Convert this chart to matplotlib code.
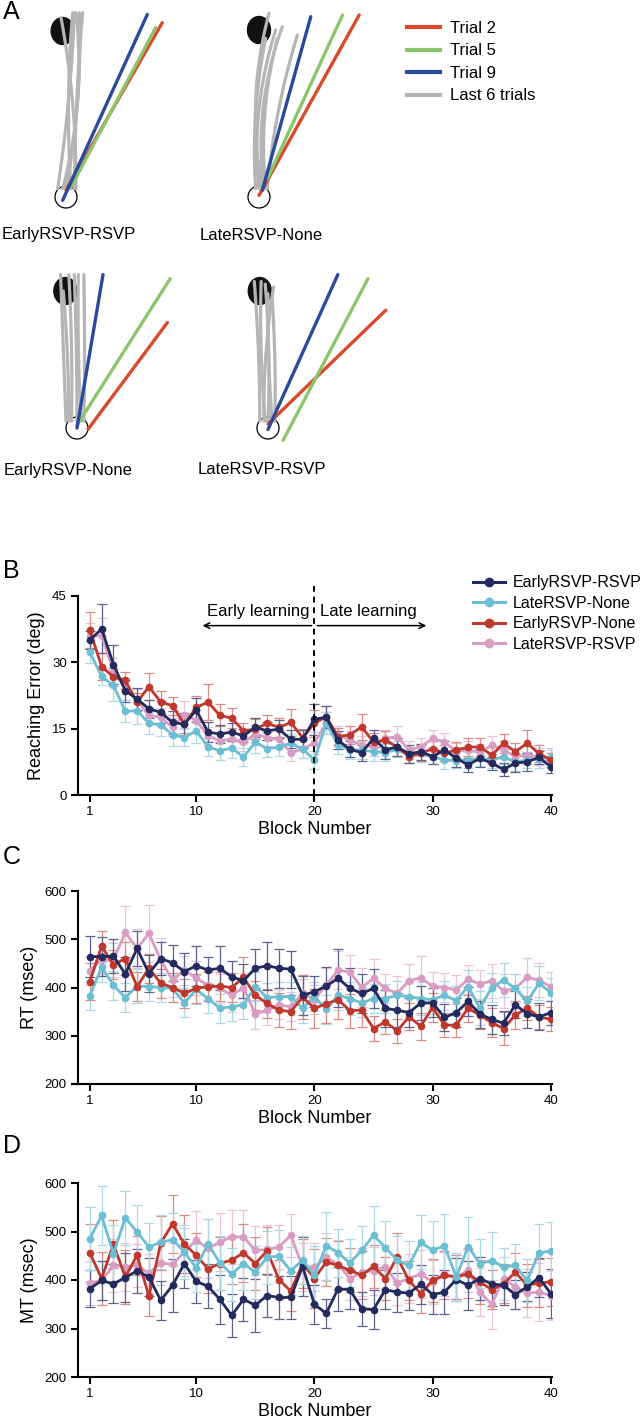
import numpy as np
import matplotlib
matplotlib.use("Agg")
import matplotlib.pyplot as plt
from matplotlib.patches import Ellipse, Circle
from matplotlib.lines import Line2D

plt.rcParams["font.family"] = ["Liberation Sans", "DejaVu Sans"]

# ---------------- data ----------------
blocks = np.arange(1, 41)
groups = ["EarlyRSVP-RSVP", "LateRSVP-None", "EarlyRSVP-None", "LateRSVP-RSVP"]

# Panel B: reaching error (deg)
err_early_rsvp = [35.0, 37.6, 29.5, 23.6, 21.7, 19.5, 18.7, 16.4, 16.0, 19.2,
                  14.2, 13.8, 14.2, 13.4, 15.3, 14.5, 14.9, 12.6, 12.6, 17.1,
                  17.6, 12.4, 10.3, 9.6, 12.8, 10.2, 10.9, 9.3, 9.8, 8.7,
                  10.2, 8.3, 6.8, 8.3, 7.2, 5.8, 7.2, 7.5, 8.5, 6.4]
err_late_none = [32.3, 26.8, 24.8, 18.9, 19.1, 16.2, 15.9, 13.6, 13.0, 14.5,
                 10.9, 10.0, 10.6, 8.6, 11.9, 10.5, 10.8, 11.7, 10.4, 7.9,
                 16.2, 11.3, 10.2, 10.2, 9.8, 9.6, 10.3, 9.0, 9.4, 8.7,
                 7.9, 7.8, 7.9, 8.3, 7.9, 8.7, 7.5, 7.9, 8.1, 8.7]
err_early_none = [37.3, 29.0, 26.7, 25.9, 21.0, 24.5, 21.0, 20.2, 16.0, 19.8,
                  21.0, 18.0, 17.4, 14.5, 14.9, 16.2, 15.3, 16.4, 13.0, 16.2,
                  17.7, 13.2, 13.6, 15.4, 12.0, 12.4, 10.9, 8.7, 9.4, 10.5,
                  9.4, 10.2, 10.8, 10.9, 9.0, 11.7, 9.8, 11.7, 9.4, 7.9]
err_late_rsvp = [36.0, 36.0, 28.0, 24.0, 21.4, 18.0, 17.6, 15.3, 18.2, 16.8,
                 13.4, 12.3, 12.6, 11.9, 13.8, 13.0, 12.6, 9.6, 10.4, 11.8,
                 16.2, 13.6, 12.4, 11.3, 10.9, 12.8, 13.2, 10.2, 10.9, 12.8,
                 12.0, 9.8, 10.2, 9.6, 11.3, 10.2, 8.7, 9.0, 8.7, 8.1]
sem_err_early_rsvp = [2, 5.5, 4.5, 2.5, 2.5, 2, 2.5, 2.5, 2.5, 2.8, 2.2, 2, 2, 1.5, 2.2, 2, 2, 2, 2, 3.5,
                      2.5, 2, 1.8, 1.8, 2, 2, 2, 2, 1.8, 1.8, 2, 2, 1.5, 2, 1.5, 1.5, 2, 2, 1.5, 1.5]
sem_err_late_none = [2.5, 2, 3.5, 2.5, 3, 2.5, 2.5, 2.5, 2, 2.8, 2, 2, 2.2, 2, 2.5, 2, 2, 2, 2, 2,
                     2.5, 2, 2, 2, 2, 2, 1.8, 1.8, 2, 1.8, 2, 1.8, 1.8, 1.8, 1.8, 1.8, 2, 1.8, 2, 2]
sem_err_early_none = [4, 3, 2, 2, 2, 3, 2.5, 2, 2, 2.5, 4, 2.5, 2.2, 1.8, 2.2, 2, 2.2, 3, 2, 3,
                      2.5, 2, 2, 3, 2, 2, 2, 1.5, 1.8, 1.8, 1.8, 1.8, 2, 2, 2, 2.2, 2, 3, 2, 1.5]
sem_err_late_rsvp = [3, 4, 3, 2.5, 2.5, 2, 2, 2, 3, 2.5, 2, 2, 2, 2, 2, 2, 2, 2, 2, 2.5,
                     2.5, 2, 2, 2, 2, 2, 2.5, 2, 2, 2, 2, 2, 2, 2, 2, 2, 2, 2, 2, 2]

# Panel C: reaction time (msec)
rt_early_rsvp = [464, 464, 465, 428, 481, 429, 460, 451, 433, 445,
                 436, 440, 422, 414, 440, 445, 440, 438, 384, 391,
                 403, 419, 398, 388, 398, 357, 353, 348, 368, 368,
                 338, 348, 371, 345, 334, 326, 364, 346, 339, 348]
rt_late_none = [383, 442, 405, 379, 403, 402, 400, 398, 368, 396,
                377, 357, 360, 364, 402, 379, 381, 381, 357, 381,
                355, 384, 377, 368, 377, 377, 384, 381, 377, 375,
                384, 373, 402, 357, 400, 415, 398, 371, 409, 389]
rt_early_none = [412, 486, 447, 460, 402, 440, 409, 400, 388, 398,
                 402, 403, 400, 421, 384, 367, 353, 350, 380, 357,
                 366, 375, 352, 353, 315, 329, 310, 339, 320, 359,
                 322, 322, 357, 343, 327, 315, 343, 357, 339, 334]
rt_late_rsvp = [435, 457, 457, 514, 481, 512, 457, 415, 436, 419,
                405, 398, 384, 400, 345, 353, 364, 360, 388, 375,
                405, 436, 432, 400, 419, 398, 388, 414, 420, 403,
                400, 395, 417, 407, 414, 393, 398, 421, 415, 402]
sem_rt_early_rsvp = [42, 40, 35, 35, 36, 38, 35, 38, 38, 42, 28, 45, 32, 35, 40, 50, 40, 38, 40, 32,
                     40, 60, 42, 40, 40, 38, 35, 30, 35, 30, 28, 30, 30, 28, 30, 25, 28, 30, 28, 25]
sem_rt_late_none = [30, 30, 30, 30, 35, 30, 30, 28, 30, 30, 30, 30, 30, 30, 30, 30, 30, 30, 30, 30,
                    30, 30, 35, 30, 30, 30, 30, 30, 35, 30, 30, 30, 35, 35, 30, 35, 30, 30, 35, 30]
sem_rt_early_none = [38, 32, 30, 35, 30, 30, 30, 30, 30, 30, 30, 30, 30, 42, 30, 30, 35, 35, 45, 40,
                     40, 40, 35, 35, 25, 25, 25, 28, 28, 30, 25, 25, 28, 30, 30, 35, 30, 25, 25, 25]
sem_rt_late_rsvp = [30, 30, 35, 55, 40, 60, 45, 35, 30, 35, 30, 30, 35, 30, 30, 30, 30, 30, 30, 30,
                    35, 40, 35, 40, 40, 30, 35, 35, 45, 30, 30, 30, 30, 30, 35, 35, 30, 40, 35, 30]

# Panel D: movement time (msec)
mt_early_rsvp = [382, 399, 392, 405, 419, 406, 358, 389, 434, 397,
                 387, 360, 327, 360, 348, 368, 364, 364, 428, 350,
                 331, 382, 380, 341, 339, 380, 375, 373, 391, 370,
                 375, 401, 389, 403, 392, 389, 370, 386, 405, 372]
mt_late_none = [485, 533, 454, 528, 499, 468, 478, 483, 458, 425,
                475, 435, 412, 434, 416, 447, 449, 419, 441, 410,
                471, 456, 435, 461, 492, 467, 441, 430, 478, 461,
                471, 406, 469, 434, 440, 427, 430, 399, 456, 460]
mt_early_none = [456, 403, 474, 406, 451, 366, 476, 516, 474, 451,
                 423, 434, 441, 456, 434, 460, 401, 377, 434, 403,
                 437, 430, 420, 410, 428, 403, 447, 399, 372, 399,
                 410, 406, 413, 396, 380, 392, 416, 389, 394, 396]
mt_late_rsvp = [394, 399, 430, 427, 430, 414, 435, 432, 458, 482,
                465, 478, 489, 489, 461, 463, 468, 492, 427, 427,
                447, 432, 403, 416, 419, 427, 394, 403, 412, 396,
                412, 406, 420, 375, 350, 403, 386, 373, 375, 368]
sem_mt_early_rsvp = [38, 40, 40, 50, 45, 40, 40, 55, 50, 45, 45, 50, 45, 45, 55, 45, 45, 45, 60, 40,
                     30, 45, 40, 35, 40, 40, 40, 35, 40, 40, 45, 45, 50, 45, 45, 40, 30, 30, 40, 50]
sem_mt_late_none = [65, 60, 60, 55, 55, 50, 55, 55, 55, 50, 50, 55, 55, 55, 55, 55, 55, 50, 50, 60,
                    70, 50, 50, 50, 60, 55, 50, 50, 55, 60, 65, 50, 60, 50, 60, 40, 45, 45, 60, 60]
sem_mt_early_none = [60, 55, 50, 55, 40, 40, 55, 60, 60, 45, 50, 55, 50, 60, 55, 50, 40, 40, 50, 60,
                     50, 50, 45, 50, 45, 45, 50, 40, 40, 45, 50, 45, 50, 45, 40, 40, 40, 45, 50, 50]
sem_mt_late_rsvp = [45, 40, 55, 50, 45, 40, 45, 45, 50, 60, 60, 60, 55, 55, 50, 50, 45, 45, 50, 50,
                    50, 50, 45, 50, 50, 45, 45, 50, 50, 45, 45, 45, 45, 50, 50, 45, 45, 50, 60, 50]

# Panel A: example trajectories, in units of target distance (start = (0, 0))
# colored trials: (start_x, start_y, end_x, end_y)
traj_trials = ["Trial 2", "Trial 5", "Trial 9"]
traj_early_rsvp = [(0.00, 0.04, 0.58, 1.05), (0.03, 0.06, 0.54, 1.02), (-0.02, -0.02, 0.49, 1.10)]
traj_late_none = [(0.00, 0.01, 0.60, 1.09), (0.05, 0.11, 0.50, 1.09), (0.02, 0.04, 0.31, 1.08)]
traj_early_none = [(0.08, -0.01, 0.66, 0.77), (0.00, 0.02, 0.68, 1.09), (0.00, 0.00, 0.19, 1.12)]
traj_late_rsvp = [(0.00, 0.03, 0.86, 0.86), (0.11, -0.09, 0.73, 1.09), (0.00, -0.01, 0.51, 1.12)]
# last 6 trials: (start_x, end_x, end_y, bow)
gray_early_rsvp = [(-0.05, 0.05, 1.11, 0.03), (0.00, 0.08, 1.11, 0.06), (0.05, 0.10, 1.11, -0.02),
                   (-0.02, 0.06, 1.11, 0.10), (0.03, 0.04, 1.11, -0.04), (0.06, -0.03, 1.08, 0.05)]
gray_late_none = [(0.02, 0.06, 1.10, -0.12), (0.00, 0.10, 1.00, -0.10), (0.04, 0.11, 0.95, -0.08),
                  (0.05, 0.23, 0.97, -0.05), (-0.02, 0.04, 0.95, -0.06), (0.03, 0.14, 1.02, -0.12)]
gray_early_none = [(-0.08, -0.12, 1.12, 0.00), (-0.04, -0.06, 1.12, 0.02), (0.00, -0.02, 1.12, 0.01),
                   (0.03, 0.01, 1.12, -0.02), (0.05, 0.05, 1.12, 0.01), (-0.06, -0.10, 1.00, 0.02)]
gray_late_rsvp = [(-0.06, -0.10, 1.07, 0.02), (-0.02, -0.05, 1.07, -0.03), (0.00, -0.02, 1.05, 0.03),
                  (0.03, 0.00, 0.98, -0.02), (0.05, 0.03, 0.95, 0.02), (-0.03, 0.04, 1.03, -0.04)]
target_offset = [(-0.02, 1.0), (0.0, 1.0), (-0.085, 1.0), (-0.06, 1.0)]

# ---------------- style ----------------
c_dark, c_light, c_red, c_pink = "#232b5e", "#6cbfd3", "#c0372d", "#d99cc3"
e_dark, e_light, e_red, e_pink = "#5d6391", "#a9dbe7", "#dc8c83", "#ebc3dc"
trial_colors = ["#d94a2b", "#8cc56c", "#2b4a9b"]
gray = "#b5b5b5"

fig = plt.figure(figsize=(6.42, 14.24), dpi=100)
H = 1424.0
W = 642.0

# ---------------- panel A ----------------
ax_a = fig.add_axes([0, 1 - 500 / H, 1, 500 / H])
ax_a.set_xlim(0, W)
ax_a.set_ylim(500, 0)
ax_a.axis("off")

# subpanel layout: (origin x, origin y, px per target distance), label position
sub_layout = [(66, 197, 166), (259, 197, 167), (77, 428, 137), (268, 428, 137)]
sub_labels = [(2, 235), (200, 235), (4, 470), (198, 470)]
colored = [traj_early_rsvp, traj_late_none, traj_early_none, traj_late_rsvp]
grays = [gray_early_rsvp, gray_late_none, gray_early_none, gray_late_rsvp]
t = np.linspace(0, 1, 60)

for (ox, oy, s), (lx, ly), col_tr, gr_tr, tgt, name in zip(
        sub_layout, sub_labels, colored, grays, target_offset, groups):
    to_px = lambda x, y: (ox + s * np.asarray(x), oy - s * np.asarray(y))
    ax_a.add_patch(Circle((ox, oy), 11, fill=False, ec="black", lw=0.9, zorder=1))
    tx, ty = to_px(tgt[0], tgt[1])
    ax_a.add_patch(Ellipse((tx, ty), 23, 27, color="#111111", zorder=1))
    for sx, ex, ey, bow in gr_tr:
        cx, cy = (sx + ex) / 2 + bow, (0.05 + ey) / 2
        xs = (1 - t) ** 2 * sx + 2 * (1 - t) * t * cx + t ** 2 * ex
        ys = (1 - t) ** 2 * 0.05 + 2 * (1 - t) * t * cy + t ** 2 * ey
        px, py = to_px(xs, ys)
        ax_a.plot(px, py, color=gray, lw=2.3, solid_capstyle="round", zorder=2)
    for (sx, sy, ex, ey), c in zip(col_tr, trial_colors):
        px, py = to_px([sx, ex], [sy, ey])
        ax_a.plot(px, py, color=c, lw=2.4, solid_capstyle="round", zorder=3)
    ax_a.text(lx, ly, name, fontsize=12, va="center", ha="left")

handles_a = [Line2D([], [], color=c, lw=3) for c in trial_colors] + [Line2D([], [], color=gray, lw=3)]
ax_a.legend(handles_a, traj_trials + ["Last 6 trials"], loc="upper left",
            bbox_to_anchor=(392 / W, 1 - 6 / 500), frameon=False, fontsize=12,
            handlelength=2.0, handletextpad=0.6, labelspacing=0.45)

# ---------------- panels B-D ----------------
def style_axes(ax, ylim, yticks, ylabel):
    ax.set_xlim(0, 40.1)
    ax.set_ylim(*ylim)
    ax.set_yticks(yticks)
    ax.set_xticks([1, 10, 20, 30, 40])
    for sp in ["top", "right"]:
        ax.spines[sp].set_visible(False)
    for sp in ["left", "bottom"]:
        ax.spines[sp].set_linewidth(1.5)
    ax.tick_params(direction="out", length=5, width=1.5, labelsize=9.5, pad=3)
    ax.set_xlabel("Block Number", fontsize=13, labelpad=2)
    ax.set_ylabel(ylabel, fontsize=13, labelpad=5)


def draw_series(ax, series):
    for y, e, c, ec, lab in series:
        ax.errorbar(blocks, y, yerr=e, color=c, ecolor=ec, elinewidth=0.9,
                    capsize=3.5, capthick=0.9, marker="o", ms=4.5, lw=2.0,
                    label=lab)


left = 78 / W
width = 474 / W
ax_b = fig.add_axes([left, 1 - 795 / H, width, 199 / H])
ax_c = fig.add_axes([left, 1 - 1084 / H, width, 193 / H])
ax_d = fig.add_axes([left, 1 - 1377 / H, width, 194 / H])

series_b = [
    (err_late_rsvp, sem_err_late_rsvp, c_pink, e_pink, groups[3]),
    (err_late_none, sem_err_late_none, c_light, e_light, groups[1]),
    (err_early_none, sem_err_early_none, c_red, e_red, groups[2]),
    (err_early_rsvp, sem_err_early_rsvp, c_dark, e_dark, groups[0]),
]
series_c = [
    (rt_late_rsvp, sem_rt_late_rsvp, c_pink, e_pink, groups[3]),
    (rt_late_none, sem_rt_late_none, c_light, e_light, groups[1]),
    (rt_early_none, sem_rt_early_none, c_red, e_red, groups[2]),
    (rt_early_rsvp, sem_rt_early_rsvp, c_dark, e_dark, groups[0]),
]
series_d = [
    (mt_late_rsvp, sem_mt_late_rsvp, c_pink, e_pink, groups[3]),
    (mt_early_none, sem_mt_early_none, c_red, e_red, groups[2]),
    (mt_early_rsvp, sem_mt_early_rsvp, c_dark, e_dark, groups[0]),
    (mt_late_none, sem_mt_late_none, c_light, e_light, groups[1]),
]

draw_series(ax_b, series_b)
style_axes(ax_b, (0, 45), [0, 15, 30, 45], "Reaching Error (deg)")
draw_series(ax_c, series_c)
style_axes(ax_c, (200, 600), [200, 300, 400, 500, 600], "RT (msec)")
draw_series(ax_d, series_d)
style_axes(ax_d, (200, 600), [200, 300, 400, 500, 600], "MT (msec)")

# early / late learning annotation
ax_b.plot([20, 20], [0, 48.2], ls=(0, (3, 2.5)), color="black", lw=1.4, clip_on=False, zorder=5)
ax_b.annotate("", xy=(10.3, 38.3), xytext=(20, 38.3),
              arrowprops=dict(arrowstyle="->", lw=1.1, color="black"), annotation_clip=False)
ax_b.annotate("", xy=(29.7, 38.3), xytext=(20, 38.3),
              arrowprops=dict(arrowstyle="->", lw=1.1, color="black"), annotation_clip=False)
ax_b.text(19.6, 39.8, "Early learning", ha="right", va="bottom", fontsize=12)
ax_b.text(20.5, 39.8, "Late learning", ha="left", va="bottom", fontsize=12)

leg_handles = [Line2D([], [], color=c, marker="o", ms=6, lw=2.2)
               for c in [c_dark, c_light, c_red, c_pink]]
fig.legend(leg_handles, groups, loc="upper left", bbox_to_anchor=(462 / W, 1 - 564 / H),
           frameon=False, fontsize=11.5, handlelength=2.0, handletextpad=0.5,
           labelspacing=0.35, borderpad=0.2)

# panel letters
for letter, y in [("A", 12), ("B", 571), ("C", 857), ("D", 1146)]:
    fig.text(3 / W, 1 - y / H, letter, fontsize=18, va="center", ha="left")

fig.savefig("out.png", dpi=100)
